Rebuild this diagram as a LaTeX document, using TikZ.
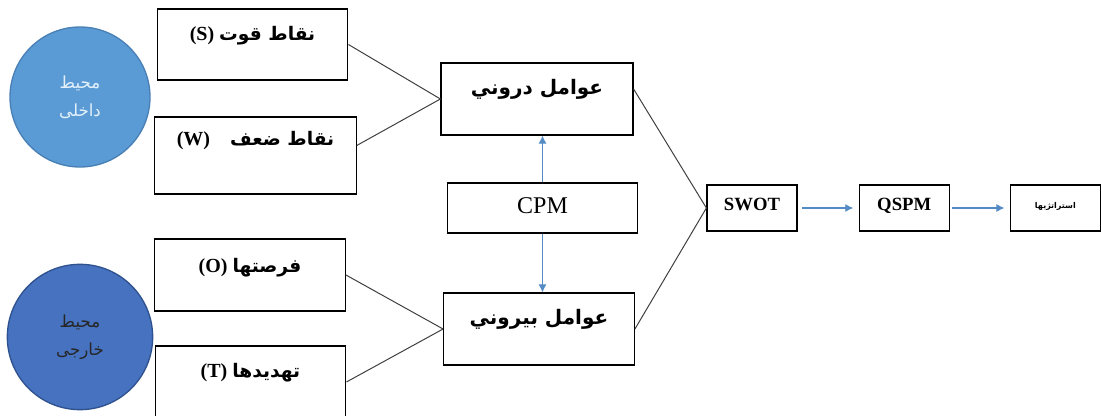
\documentclass[tikz,border=0pt]{standalone}
\usepackage{fontspec}
\setmainfont{Liberation Serif}
\newfontfamily\arabicfont[Script=Arabic]{DejaVu Sans}
\TeXXeTstate=1
\usepackage{xcolor}
\usepackage{tikz}
\usetikzlibrary{arrows.meta,calc,positioning}
\definecolor{innerblue}{RGB}{91,155,213}
\definecolor{innerline}{RGB}{72,128,182}
\definecolor{outerblue}{RGB}{70,114,192}
\definecolor{outerline}{RGB}{47,82,143}
\definecolor{paletext}{RGB}{228,240,250}
\definecolor{flowblue}{RGB}{84,139,196}
\definecolor{linkgrey}{RGB}{64,64,64}
\tikzset{
  envcircle/.style={circle,line width=1pt,align=center,inner sep=0pt,
    font=\arabicfont\fontsize{12.5}{21}\selectfont},
  factorbox/.style={draw,line width=0.9pt,minimum width=143pt,inner sep=0pt,
    text height=24pt,text depth=30pt,align=center,
    font=\bfseries\fontsize{15}{17}\selectfont},
  stagebox/.style={draw,line width=0.9pt,minimum width=67.5pt,inner sep=0pt,
    text height=19.5pt,text depth=15pt,align=center,
    font=\bfseries\fontsize{14}{16}\selectfont},
  link/.style={draw=linkgrey,line width=0.75pt},
  flow/.style={-{Latex[length=6pt,width=6pt]},line width=0.8pt,draw=flowblue}
}
\newcommand{\fa}[1]{{\arabicfont\beginR #1\endR}}

\begin{document}
\begin{tikzpicture}[x=0.75pt,y=-0.75pt]
  \useasboundingbox (0,0) rectangle (1101,416);
  % environments
  \node[envcircle,fill=innerblue,draw=innerline,text=paletext,
    minimum size=105pt] (inenv) at (80,97) {\fa{محیط}\\\fa{داخلی}};
  \node[envcircle,fill=outerblue,draw=outerline,text=black!85,
    minimum size=109pt] (outenv) at (80,337) {\fa{محیط}\\\fa{خارجی}};
  % swot factors
  \node[factorbox,text height=24pt,text depth=29.25pt] (sbox) at (252.5,44.5)
    {(S) {\fontsize{14}{16}\selectfont\fa{نقاط قوت}}};
  \node[factorbox,minimum width=151pt,text height=21.5pt,text depth=36.25pt]
    (wbox) at (255.5,155.5) {(W)\quad{\fontsize{14}{16}\selectfont\fa{نقاط ضعف}}};
  \node[factorbox,text height=25.5pt,text depth=28.5pt] (obox) at (250,275)
    {(O) {\fontsize{14}{16}\selectfont\fa{فرصتها}}};
  \node[factorbox,text height=24pt,text depth=30pt] (tbox) at (250.5,382)
    {(T) {\fontsize{14}{16}\selectfont\fa{تهدیدها}}};
  % internal / external
  \node[factorbox,minimum width=144pt] (inner) at (537,99) {\fa{عوامل دروني}};
  \node[factorbox] (outer) at (539,329) {\fa{عوامل بيروني}};
  \node[factorbox,minimum width=142pt,text height=23pt,text depth=14.5pt,
    font=\fontsize{18}{20}\selectfont] (cpm) at (542.5,208) {CPM};
  % stages
  \node[stagebox] (swot) at (752,208) {SWOT};
  \node[stagebox,right=45.75pt of swot] (qspm) {QSPM};
  \node[stagebox,right=45pt of qspm,text height=17.5pt,text depth=17pt,
    font=\bfseries\fontsize{6}{7}\selectfont] (strat) {\fa{استراتژیها}};
  % connectors
  \draw[link] (sbox.east) -- (inner.west);
  \draw[link] ([yshift=7.5pt]wbox.east) -- (inner.west);
  \draw[link] (obox.east) -- (outer.west);
  \draw[link] (tbox.east) -- (outer.west);
  \draw[link] ([yshift=7.5pt]inner.east) -- (swot.west);
  \draw[link] (outer.east) -- (swot.west);
  \draw[flow] (cpm) -- (cpm |- inner.south);
  \draw[flow] (cpm) -- (cpm |- outer.north);
  \draw[flow] ([xshift=3pt]swot.east) -- ([xshift=-4pt]qspm.west);
  \draw[flow] ([xshift=2pt]qspm.east) -- ([xshift=-4pt]strat.west);
\end{tikzpicture}
\end{document}
